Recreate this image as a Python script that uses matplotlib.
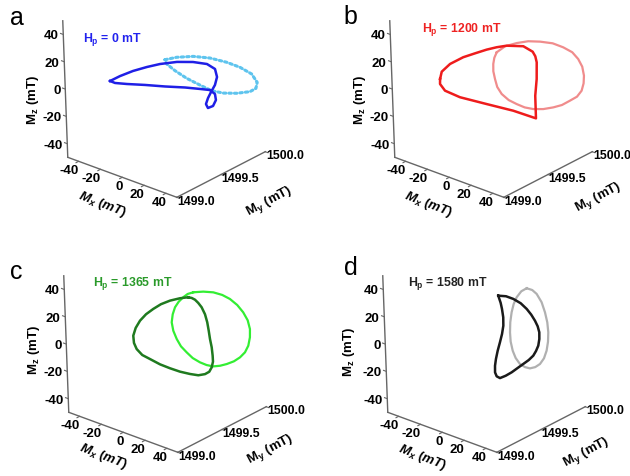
import matplotlib
matplotlib.use("Agg")
import matplotlib.pyplot as plt
from mpl_toolkits.mplot3d import proj3d
import numpy as np

plt.rcParams['font.family'] = ['Liberation Sans', 'DejaVu Sans']
plt.rcParams['font.weight'] = 'bold'
plt.rcParams['axes.unicode_minus'] = False
plt.rcParams['mathtext.fontset'] = 'custom'
plt.rcParams['mathtext.rm'] = 'Liberation Sans:bold'
plt.rcParams['mathtext.it'] = 'Liberation Sans:italic:bold'
plt.rcParams['mathtext.bf'] = 'Liberation Sans:bold'

# ---------------- data (mT) ----------------
panel_letters = ['a', 'b', 'c', 'd']
field_labels = [r'$\mathrm{H_p}$ = 0 mT', r'$\mathrm{H_p}$ = 1200 mT',
                r'$\mathrm{H_p}$ = 1365 mT', r'$\mathrm{H_p}$ = 1580 mT']
z_ticks = [-40, -20, 0, 20, 40]
x_ticks = [-40, -20, 0, 20, 40]
y_ticks = [1499.0, 1499.5, 1500.0]

# My level of the dark (trajectory) and light curves
my_dark = [1499.5, 1499.5, 1499.5, 1499.5]
my_light = [1500.0, 1500.0, 1500.0, 1500.0]

a_dark_mx = [-50.0, -40.5, -28.3, -15.1, -3.0, 12.9, 27.8, 40.7, 48.0, 49.6, 47.4, 43.5,
             40.5, 38.4, 40.1, 44.9, 47.8, 47.1, 42.6, 33.4, 19.5, 0.9, -17.6, -34.3, -45.4,
             -50.0]
a_dark_mz = [-10.8, -4.4, 2.9, 9.7, 15.4, 21.6, 25.9, 28.2, 26.7, 21.3, 14.8, 8.5,
             3.2, -1.8, -4.2, -1.3, 3.9, 8.1, 9.7, 7.8, 4.8, 0.1, -4.2, -8.4, -10.9,
             -10.8]
a_light_mx = [-40.1, -29.1, -13.6, 1.8, 17.2, 29.4, 40.0, 44.9, 43.5, 37.8, 25.4, 13.0,
              2.3, -8.4, -20.5, -31.1, -38.6, -40.1]
a_light_mz = [-9.0, -4.0, 1.2, 4.5, 5.9, 5.8, 4.0, -0.7, -5.5, -9.6, -14.4, -17.9,
              -19.3, -18.3, -16.9, -14.4, -11.7, -9.0]

b_dark_mx = [-47.1, -45.3, -37.3, -24.8, -13.7, -2.8, 6.6, 16.0, 31.4, 39.9, 42.2, 43.3,
             42.7, 40.8, 40.7, 19.9, -4.6, -29.2, -42.9, -47.3, -47.1]
b_dark_mz = [-8.5, -2.6, 5.4, 14.0, 20.1, 26.0, 30.5, 34.4, 38.5, 37.0, 34.3, 30.2,
             17.8, 5.0, -11.6, -12.1, -14.4, -16.6, -15.8, -12.2, -8.5]
b_light_mx = [-35.4, -27.5, -16.5, -5.7, 5.2, 16.9, 26.6, 34.8, 40.1, 43.6, 44.9, 44.3,
              42.2, 37.7, 31.0, 23.4, 15.3, 5.9, -3.4, -11.3, -18.6, -25.9, -32.2, -36.1,
              -37.9, -39.2, -39.0, -37.8, -35.4]
b_light_mz = [-2.2, 4.5, 10.1, 14.6, 17.5, 19.7, 19.6, 18.4, 15.0, 10.4, 4.2, -1.6,
              -7.6, -13.3, -18.2, -23.6, -27.7, -31.7, -34.4, -35.5, -35.2, -34.4, -31.8, -27.8,
              -22.5, -17.2, -11.8, -6.9, -2.2]

c_dark_mx = [23.1, 15.4, 6.0, -2.5, -9.8, -16.7, -22.5, -26.8, -29.3, -28.9, -26.6, -21.6,
             -14.5, -5.4, 3.7, 12.9, 22.1, 29.8, 36.1, 40.1, 42.5, 43.9, 43.8, 43.2,
             41.9, 41.0, 39.9, 38.1, 35.2, 32.2, 29.3, 26.3, 23.1]
c_dark_mz = [39.0, 36.0, 31.5, 26.4, 20.8, 14.9, 8.5, 1.9, -4.5, -9.7, -13.5, -16.4,
             -17.3, -18.5, -18.7, -18.5, -17.5, -16.2, -13.5, -10.6, -6.7, -2.1, 2.2, 8.2,
             13.9, 19.7, 25.6, 30.9, 35.2, 37.5, 39.0, 39.4, 39.0]
c_light_mx = [-13.9, -4.6, 4.7, 12.9, 19.9, 26.5, 31.8, 35.7, 37.5, 37.2, 35.4, 32.1,
              27.3, 21.5, 14.7, 8.4, 2.1, -4.0, -10.1, -16.7, -22.1, -27.2, -30.9, -33.8,
              -35.0, -33.8, -31.4, -27.8, -23.4, -19.2, -13.9]
c_light_mz = [15.1, 18.3, 20.5, 21.0, 20.1, 17.6, 13.8, 9.1, 3.2, -2.9, -9.6, -15.4,
              -20.5, -25.1, -29.1, -32.2, -34.5, -35.3, -35.1, -33.9, -31.3, -28.4, -24.1, -18.9,
              -13.1, -6.9, -1.0, 4.1, 8.7, 12.3, 15.1]

d_dark_mx = [14.8, 22.0, 28.7, 35.4, 40.8, 44.8, 48.1, 50.4, 51.7, 51.5, 50.3, 48.0,
             45.3, 40.9, 35.7, 30.0, 24.7, 19.0, 13.6, 10.6, 9.2, 9.4, 10.5, 12.4,
             14.8, 17.0, 18.5, 18.7, 17.8, 16.8, 14.8]
d_dark_mz = [37.7, 39.4, 39.4, 38.2, 35.6, 32.6, 29.1, 25.7, 21.7, 16.7, 11.5, 6.9,
             2.7, -1.8, -6.2, -11.0, -15.5, -19.7, -23.0, -22.6, -20.1, -15.2, -9.9, -3.3,
             3.6, 10.3, 16.8, 23.0, 28.9, 33.0, 37.7]
d_light_mx = [-0.4, 4.7, 8.7, 13.0, 15.8, 17.6, 18.2, 17.6, 16.0, 13.3, 9.4, 4.9,
              -0.1, -4.7, -9.2, -13.0, -15.5, -17.1, -17.4, -16.8, -15.2, -13.0, -10.0, -5.5,
              -0.4]
d_light_mz = [22.0, 22.2, 20.5, 15.7, 9.1, 2.3, -4.8, -11.9, -18.9, -25.3, -30.6, -34.2,
              -36.6, -37.0, -36.1, -32.8, -28.2, -22.0, -15.3, -7.7, 0.1, 6.8, 12.6, 18.3,
              22.0]

dark_x = [a_dark_mx, b_dark_mx, c_dark_mx, d_dark_mx]
dark_z = [a_dark_mz, b_dark_mz, c_dark_mz, d_dark_mz]
light_x = [a_light_mx, b_light_mx, c_light_mx, d_light_mx]
light_z = [a_light_mz, b_light_mz, c_light_mz, d_light_mz]

dark_colors = ['#1f1fe6', '#ee1c1c', '#1f7a1f', '#1a1a1a']
light_colors = ['#5ec4ee', '#f08c8c', '#33ee33', '#b0b0b0']
text_colors = ['#2222ee', '#ee2222', '#2a9a2a', '#222222']

# ---------------- layout ----------------
fig = plt.figure(figsize=(6.3, 4.77), dpi=100)
W, H = 630, 477
S = 242
centers = [(164, 87.25), (491, 87.25), (165, 342.25), (484, 342.25)]
letter_pos = [(10, 18), (343, 17), (10, 272), (344, 268)]
label_pos = [(83, 40), (422, 30), (93, 283), (408, 283)]
xlab_pos = [(102, 205), (428, 205), (103, 457), (422, 458)]
ylab_pos = [(269, 202), (598, 198), (270, 450), (586, 453)]
zlab_pos = [(33, 100), (360, 100), (34, 350), (349, 352)]
AX_COL = '#666666'
FS = 9.5


def text3(ax, x, y, z, s, **kw):
    """Place a plain 2D text at the projected position of a 3D data point."""
    px, py, _ = proj3d.proj_transform(x, y, z, ax.get_proj())
    ax.text2D(px, py, s, transform=ax.transData, clip_on=False, **kw)


for i in range(4):
    cx, cy = centers[i]
    left = cx - 0.5135 * S
    bottom = (H - cy) - 0.5135 * S
    ax = fig.add_axes([left / W, bottom / H, S / W, S / H], projection='3d')
    ax.set_proj_type('ortho')
    ax.view_init(elev=26, azim=-47, roll=2.1)
    ax.set_box_aspect((1, 0.898, 1.034))
    ax.set_xlim(-50, 50)
    ax.set_ylim(1499.0, 1500.0)
    ax.set_zlim(-50, 50)

    n_d = len(dark_x[i])
    n_l = len(light_x[i])
    if i == 0:
        ax.plot(light_x[i], [my_light[i]] * n_l, light_z[i], color=light_colors[i],
                lw=2.2, ls=(0, (0.8, 1.0)), dash_capstyle='round')
    else:
        ax.plot(light_x[i], [my_light[i]] * n_l, light_z[i], color=light_colors[i], lw=1.6)
    ax.plot(dark_x[i], [my_dark[i]] * n_d, dark_z[i], color=dark_colors[i], lw=1.8)

    ax.set_xlim(-50, 50)
    ax.set_ylim(1499.0, 1500.0)
    ax.set_zlim(-50, 50)
    ax.set_xticks([])
    ax.set_yticks([])
    ax.set_zticks([])
    ax.grid(False)
    for axis in (ax.xaxis, ax.yaxis, ax.zaxis):
        axis.set_pane_color((1, 1, 1, 0))
        axis.pane.set_edgecolor((1, 1, 1, 0))
        axis.line.set_color(AX_COL)
        axis.line.set_linewidth(1.0)
    ax.zaxis.line.set_visible(False)

    # z axis line on the left corner, with ticks and tick labels
    ax.plot([-50, -50], [1499.0, 1499.0], [-50, 50], color=AX_COL, lw=1.0)
    for zt in z_ticks:
        ax.plot([-50, -52.5], [1499.0, 1499.0], [zt, zt], color=AX_COL, lw=0.8)
        text3(ax, -51.4, 1498.966, zt, f'{zt}', ha='right', va='center', fontsize=FS)
    # x ticks and labels
    for xt in x_ticks:
        ax.plot([xt, xt], [1499.0, 1498.97], [-50, -50], color=AX_COL, lw=0.8)
        text3(ax, xt, 1499.0, -56.5, f'{xt}', ha='right', va='center', fontsize=FS)
    # y ticks and labels
    for yt in y_ticks:
        ax.plot([50, 52.5], [yt, yt], [-50, -50], color=AX_COL, lw=0.8)
        text3(ax, 50.5, yt, -52.5, f'{yt:.1f}', ha='left', va='center', fontsize=8.8)

    xl, yl = xlab_pos[i]
    fig.text(xl / W, 1 - yl / H, r'$M_x\ (mT)$', fontsize=FS, rotation=-21,
             ha='center', va='center', rotation_mode='anchor')
    xl, yl = ylab_pos[i]
    fig.text(xl / W, 1 - yl / H, r'$\mathrm{M_y\ (mT)}$', fontsize=FS, rotation=28,
             ha='center', va='center', rotation_mode='anchor')
    xl, yl = zlab_pos[i]
    fig.text(xl / W, 1 - yl / H, r'$\mathrm{M_z\ (mT)}$', fontsize=FS, rotation=90,
             ha='center', va='center', rotation_mode='anchor')

    lx, ly = letter_pos[i]
    fig.text(lx / W, 1 - ly / H, panel_letters[i], fontsize=18, fontweight='normal',
             ha='left', va='center')
    tx, ty = label_pos[i]
    fig.text(tx / W, 1 - ty / H, field_labels[i], fontsize=8.8, color=text_colors[i],
             ha='left', va='center')

fig.savefig('out.png', dpi=100)
